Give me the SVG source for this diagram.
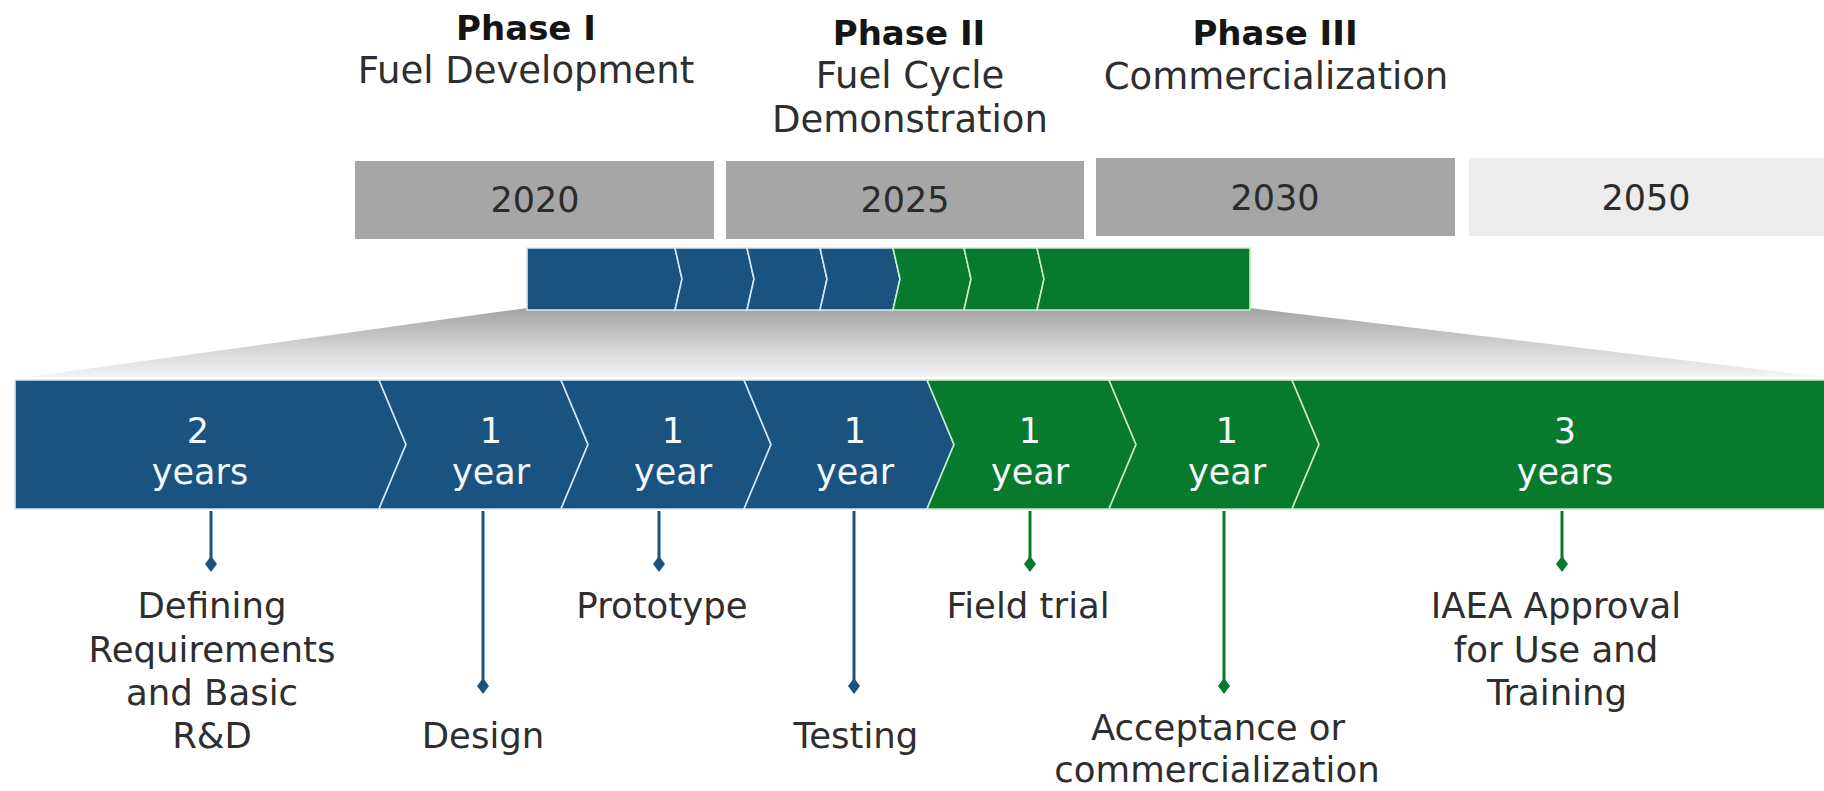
<svg xmlns="http://www.w3.org/2000/svg" width="1824" height="791" viewBox="0 0 1824 791">
  <defs>
    <style>
      text { font-family: "DejaVu Sans", "Open Sans", sans-serif; text-anchor: middle; }
      .ph { font-size: 34px; font-weight: 700; fill: #151515; }
      .sub { font-size: 37px; fill: #2e2e2e; }
      .yr { font-size: 35px; fill: #2b2b2b; }
      .dur { font-size: 35px; fill: #f4f8fb; }
      .lbl { font-size: 35.5px; fill: #2e2e2e; }
      .yearbox { fill: #a6a6a6; }
      .yearbox.late { fill: #ececec; }
      .blue { fill: #1a5380; stroke: #d7e6f2; stroke-width: 1.6; stroke-linejoin: miter; }
      .green { fill: #077a2e; stroke: #c7ecc9; stroke-width: 1.6; stroke-linejoin: miter; }
      .c-blue { stroke: #1a5380; stroke-width: 3; fill: none; marker-end: url(#dia-blue); }
      .c-green { stroke: #077a2e; stroke-width: 3; fill: none; marker-end: url(#dia-green); }
    </style>
    <linearGradient id="funnelFill" x1="0" y1="0" x2="0" y2="1">
      <stop offset="0" stop-color="#a3a3a3"/>
      <stop offset="0.55" stop-color="#d2d2d2"/>
      <stop offset="1" stop-color="#f4f4f4"/>
    </linearGradient>
    <marker id="dia-blue" viewBox="-8 -6 16 12" markerWidth="16" markerHeight="12" refX="0" refY="0" orient="auto" markerUnits="userSpaceOnUse">
      <path d="M-8,0 L0,-6 L8,0 L0,6 Z" fill="#1a5380"/>
    </marker>
    <marker id="dia-green" viewBox="-8 -6 16 12" markerWidth="16" markerHeight="12" refX="0" refY="0" orient="auto" markerUnits="userSpaceOnUse">
      <path d="M-8,0 L0,-6 L8,0 L0,6 Z" fill="#077a2e"/>
    </marker>
  </defs>

  <rect width="1824" height="791" fill="#ffffff"/>

  <!-- phase headings -->
  <g id="phase-1">
    <text class="ph" x="526" y="40">Phase I</text>
    <text class="sub" x="526" y="83">Fuel Development</text>
  </g>
  <g id="phase-2">
    <text class="ph" x="909" y="45">Phase II</text>
    <text class="sub" x="910" y="88">Fuel Cycle</text>
    <text class="sub" x="910" y="132">Demonstration</text>
  </g>
  <g id="phase-3">
    <text class="ph" x="1275" y="45">Phase III</text>
    <text class="sub" x="1276" y="89">Commercialization</text>
  </g>

  <!-- year scale -->
  <g id="year-2020">
    <rect class="yearbox" x="355" y="161" width="359" height="78"/>
    <text class="yr" x="535" y="212">2020</text>
  </g>
  <g id="year-2025">
    <rect class="yearbox" x="726" y="161" width="358" height="78"/>
    <text class="yr" x="905" y="212">2025</text>
  </g>
  <g id="year-2030">
    <rect class="yearbox" x="1096" y="158" width="359" height="78"/>
    <text class="yr" x="1275" y="210">2030</text>
  </g>
  <g id="year-2050">
    <rect class="yearbox late" x="1469" y="158" width="355" height="78"/>
    <text class="yr" x="1646" y="210">2050</text>
  </g>

  <!-- zoom wedge from the overview bar to the detailed bar -->
  <g id="zoom-wedge">
    <polygon points="527,308 1250,308 1824,377 28,377" fill="url(#funnelFill)"/>
  </g>

  <!-- overview bar -->
  <g id="overview-bar">
    <polygon class="blue" points="527,248 675,248 682,279 675,310 527,310"/>
    <polygon class="blue" points="675,248 747,248 754,279 747,310 675,310 682,279"/>
    <polygon class="blue" points="747,248 820,248 827,279 820,310 747,310 754,279"/>
    <polygon class="blue" points="820,248 893,248 900,279 893,310 820,310 827,279"/>
    <polygon class="green" points="893,248 964,248 971,279 964,310 893,310 900,279"/>
    <polygon class="green" points="964,248 1037,248 1044,279 1037,310 964,310 971,279"/>
    <polygon class="green" points="1037,248 1250,248 1250,310 1037,310 1044,279"/>
  </g>

  <!-- detailed duration bar -->
  <g id="seg-1">
    <polygon class="blue" points="15,380 379,380 406,444.5 379,509 15,509"/>
    <text class="dur" x="198" y="443">2</text>
    <text class="dur" x="200" y="484">years</text>
  </g>
  <g id="seg-2">
    <polygon class="blue" points="379,380 561,380 588,444.5 561,509 379,509 406,444.5"/>
    <text class="dur" x="491" y="443">1</text>
    <text class="dur" x="491" y="484">year</text>
  </g>
  <g id="seg-3">
    <polygon class="blue" points="561,380 744,380 771,444.5 744,509 561,509 588,444.5"/>
    <text class="dur" x="673" y="443">1</text>
    <text class="dur" x="673" y="484">year</text>
  </g>
  <g id="seg-4">
    <polygon class="blue" points="744,380 927,380 954,444.5 927,509 744,509 771,444.5"/>
    <text class="dur" x="855" y="443">1</text>
    <text class="dur" x="855" y="484">year</text>
  </g>
  <g id="seg-5">
    <polygon class="green" points="927,380 1109,380 1136,444.5 1109,509 927,509 954,444.5"/>
    <text class="dur" x="1030" y="443">1</text>
    <text class="dur" x="1030" y="484">year</text>
  </g>
  <g id="seg-6">
    <polygon class="green" points="1109,380 1292,380 1319,444.5 1292,509 1109,509 1136,444.5"/>
    <text class="dur" x="1227" y="443">1</text>
    <text class="dur" x="1227" y="484">year</text>
  </g>
  <g id="seg-7">
    <polygon class="green" points="1292,380 1826,380 1826,509 1292,509 1319,444.5"/>
    <text class="dur" x="1565" y="443">3</text>
    <text class="dur" x="1565" y="484">years</text>
  </g>

  <!-- milestone connectors -->
  <g id="connectors">
    <line class="c-blue" x1="211" y1="511" x2="211" y2="564"/>
    <line class="c-blue" x1="483" y1="511" x2="483" y2="686"/>
    <line class="c-blue" x1="659" y1="511" x2="659" y2="564"/>
    <line class="c-blue" x1="854" y1="511" x2="854" y2="686"/>
    <line class="c-green" x1="1030" y1="511" x2="1030" y2="564"/>
    <line class="c-green" x1="1224" y1="511" x2="1224" y2="686"/>
    <line class="c-green" x1="1562" y1="511" x2="1562" y2="564"/>
  </g>

  <!-- milestone labels -->
  <g id="m-requirements">
    <text class="lbl" x="212" y="618">Defining</text>
    <text class="lbl" x="212" y="662">Requirements</text>
    <text class="lbl" x="212" y="705">and Basic</text>
    <text class="lbl" x="212" y="748">R&amp;D</text>
  </g>
  <g id="m-design">
    <text class="lbl" x="483" y="748">Design</text>
  </g>
  <g id="m-prototype">
    <text class="lbl" x="662" y="618">Prototype</text>
  </g>
  <g id="m-testing">
    <text class="lbl" x="856" y="748">Testing</text>
  </g>
  <g id="m-field-trial">
    <text class="lbl" x="1028" y="618">Field trial</text>
  </g>
  <g id="m-acceptance">
    <text class="lbl" x="1218" y="740">Acceptance or</text>
    <text class="lbl" x="1217" y="782">commercialization</text>
  </g>
  <g id="m-iaea">
    <text class="lbl" x="1556" y="618">IAEA Approval</text>
    <text class="lbl" x="1556" y="662">for Use and</text>
    <text class="lbl" x="1557" y="705">Training</text>
  </g>
</svg>
